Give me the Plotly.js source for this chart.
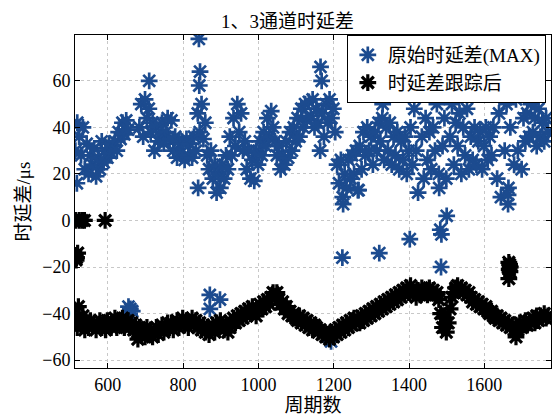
<!DOCTYPE html>
<html>
<head>
<meta charset="utf-8">
<script src="https://cdn.plot.ly/plotly-3.0.1.min.js"></script>
<style>html,body{margin:0;padding:0;background:#fff;}#chart{width:556px;height:420px;}</style>
</head>
<body>
<div id="chart"></div>
<script>
// Cycle numbers (x) shared by the two main series
const cycles = [
514,519,524,529,534,539,544,549,554,559,
564,569,574,579,584,589,594,599,604,609,
614,619,624,629,634,639,644,649,654,659,
664,669,674,679,684,689,694,699,704,709,
714,719,724,729,734,739,744,749,754,759,
764,769,774,779,784,789,794,799,804,809,
814,819,824,829,834,839,844,849,854,859,
864,869,874,879,884,889,894,899,904,909,
914,919,924,929,934,939,944,949,954,959,
964,969,974,979,984,989,994,999,1004,1009,
1014,1019,1024,1029,1034,1039,1044,1049,1054,1059,
1064,1069,1074,1079,1084,1089,1094,1099,1104,1109,
1114,1119,1124,1129,1134,1139,1144,1149,1154,1159,
1164,1169,1174,1179,1184,1189,1194,1199,1204,1209,
1214,1219,1224,1229,1234,1239,1244,1249,1254,1259,
1264,1269,1274,1279,1284,1289,1294,1299,1304,1309,
1314,1319,1324,1329,1334,1339,1344,1349,1354,1359,
1364,1369,1374,1379,1384,1389,1394,1399,1404,1409,
1414,1419,1424,1429,1434,1439,1444,1449,1454,1459,
1464,1469,1474,1479,1484,1489,1494,1499,1504,1509,
1514,1519,1524,1529,1534,1539,1544,1549,1554,1559,
1564,1569,1574,1579,1584,1589,1594,1599,1604,1609,
1614,1619,1624,1629,1634,1639,1644,1649,1654,1659,
1664,1669,1674,1679,1684,1689,1694,1699,1704,1709,
1714,1719,1724,1729,1734,1739,1744,1749,1754,1759,
1764,1769
];

// 原始时延差(MAX), μs
const rawDelay = [
30,42,36,28,40,22,33,20,28,24,
31,19,27,22,34,25,30,27,33,29,
32,34,30,38,35,42,37,43,39,null,
null,null,null,null,40,50,36,52,44,48,
38,42,30,40,34,36,42,33,38,44,
35,43,30,36,27,34,29,33,26,35,
28,33,27,36,30,46,38,50,35,42,
28,22,30,18,24,12,20,14,24,18,
28,22,36,28,44,32,50,38,46,30,
34,22,30,18,26,17,30,24,34,28,
38,32,44,36,47,40,34,28,32,22,
28,24,34,27,38,30,40,34,44,36,
48,40,50,43,51,45,52,40,48,42,
30,46,36,50,42,52,44,48,38,24,
16,26,10,20,14,26,18,28,20,30,
13,32,22,38,28,40,30,36,24,38,
30,42,34,44,26,40,30,42,24,36,
28,38,22,34,26,36,20,30,40,24,
48,30,12,54,36,18,44,26,38,22,
40,30,50,20,56,32,44,18,58,36,
50,24,42,32,46,20,40,28,48,22,
36,26,40,24,34,38,22,32,40,26,
36,28,40,56,18,46,10,60,30,50,
14,40,62,24,52,30,58,22,44,34,
46,36,50,38,44,32,48,36,42,34,
44,38
];

// 时延差跟踪后, μs
const trackedDelay = [
-42,-46,-43,-45,-41,-47,-44,-46,-43,-45,
-44,-47,-45,-43,-46,-44,-47,-43,-45,-46,
-44,-42,-46,-43,-45,-42,-46,-44,-43,-46,
-44,-47,-45,-48,-46,-49,-47,-50,-46,-48,
-47,-50,-48,-46,-49,-47,-45,-48,-46,-44,
-46,-44,-47,-45,-43,-46,-44,-42,-45,-43,
-46,-44,-42,-45,-43,-46,-44,-47,-45,-48,
-46,-49,-47,-45,-48,-44,-46,-43,-45,-47,
-45,-48,-46,-44,-42,-44,-41,-43,-40,-42,
-39,-41,-38,-40,-37,-39,-41,-38,-36,-38,
-35,-37,-34,-36,-33,-31,-33,-31,-34,-36,
-35,-38,-37,-40,-39,-41,-40,-42,-43,-41,
-44,-42,-45,-43,-46,-44,-47,-45,-46,-48,
-47,-49,-48,-50,-49,-51,-48,-50,-47,-49,
-46,-48,-45,-47,-44,-46,-43,-45,-42,-44,
-42,-44,-41,-43,-40,-42,-39,-41,-38,-40,
-37,-39,-36,-38,-35,-37,-34,-36,-33,-35,
-32,-34,-31,-33,-30,-32,-29,-31,-28,-30,
-31,-33,-30,-32,-29,-31,-30,-32,-29,-31,
-30,-32,-31,-34,-40,-46,-42,-48,-44,-38,
-33,-31,-29,-28,-30,-29,-31,-30,-32,-31,
-33,-35,-34,-36,-35,-37,-36,-38,-37,-39,
-40,-39,-41,-42,-41,-43,-42,-44,-43,-45,
-44,-46,-45,-47,-45,-47,-44,-46,-45,-43,
-45,-43,-44,-42,-44,-41,-43,-41,-42,-40,
-42,-41
];

// Isolated points of the raw series
const rawOutlierX = [518,710,842,845,843,840,1165,1168,1330,1480,1225,1266,655,660,665,658,871,898,871,1193,1223,1321,1402,1483,1486,1500,1485,1663,1663];
const rawOutlierY = [16,60,78,64,58,14,66,60,50,14,7,13,-37,-38,-39,-40,-32,-34,-38,-52,-16,-14,-8,-4,-6,2,-20,7,11];

// Isolated points of the tracked series
const trackedOutlierX = [514,524,532,538,593,514,517,520,516,522,680,1665,1667,1669,1666,1668,1665,1684];
const trackedOutlierY = [0,0,0,0,0,-15,-16,-14,-17,-37,-51,-18,-19,-20,-21,-22,-25,-50];

// Axis ticks
const xTicks = [600,800,1000,1200,1400,1600];
const yTicks = [-60,-40,-20,0,20,40,60];

const blue = '#1c4b8f';
const fontFam = '"Liberation Serif", "Times New Roman", "Noto Sans CJK SC", serif';

const blueMarker = {symbol:'asterisk-open', size:14, line:{color:blue, width:2.7}, color:blue};
const blackMarker = {symbol:'asterisk-open', size:14, line:{color:'#000', width:3.2}, color:'#000'};

const traces = [
  {x:cycles, y:rawDelay, type:'scatter', mode:'markers', name:'原始时延差(MAX)', marker:blueMarker, legendgroup:'a'},
  {x:rawOutlierX, y:rawOutlierY, type:'scatter', mode:'markers', name:'原始时延差(MAX)', marker:blueMarker, legendgroup:'a', showlegend:false},
  {x:cycles, y:trackedDelay, type:'scatter', mode:'markers', name:'时延差跟踪后', marker:blackMarker, legendgroup:'b'},
  {x:trackedOutlierX, y:trackedOutlierY, type:'scatter', mode:'markers', name:'时延差跟踪后', marker:blackMarker, legendgroup:'b', showlegend:false}
];

const axisCommon = {
  showline:true, linecolor:'#000', linewidth:1, mirror:'ticks',
  ticks:'inside', ticklen:5, tickcolor:'#000',
  showgrid:true, gridcolor:'#c8c8c8', griddash:'dot', gridwidth:1,
  zeroline:false, tickfont:{family:fontFam, size:18, color:'#000'}
};

const layout = {
  width:556, height:420,
  margin:{l:75, r:5, t:35, b:52},
  paper_bgcolor:'#fff', plot_bgcolor:'#fff',
  font:{family:fontFam, color:'#000', size:18},
  title:{text:'1、3通道时延差', font:{family:fontFam, size:19, color:'#000'}, x:0.517, xref:'container', xanchor:'center', y:0.95, yref:'container', yanchor:'middle'},
  xaxis:Object.assign({}, axisCommon, {range:[513,1777], tickvals:xTicks, ticktext:xTicks.map(String),
    title:{text:'周期数', font:{family:fontFam, size:19, color:'#000'}, standoff:2}}),
  yaxis:Object.assign({}, axisCommon, {range:[-63.4,79.7], tickvals:yTicks,
    title:{text:'时延差/μs', font:{family:fontFam, size:19, color:'#000'}, standoff:6}}),
  legend:{x:0.571, y:1, xanchor:'left', yanchor:'top', bgcolor:'#fff', bordercolor:'#000', borderwidth:1,
    font:{family:fontFam, size:19, color:'#000'}, tracegroupgap:0, itemwidth:30},
  showlegend:true
};

Plotly.newPlot('chart', traces, layout, {staticPlot:true, displayModeBar:false});
</script>
</body>
</html>
